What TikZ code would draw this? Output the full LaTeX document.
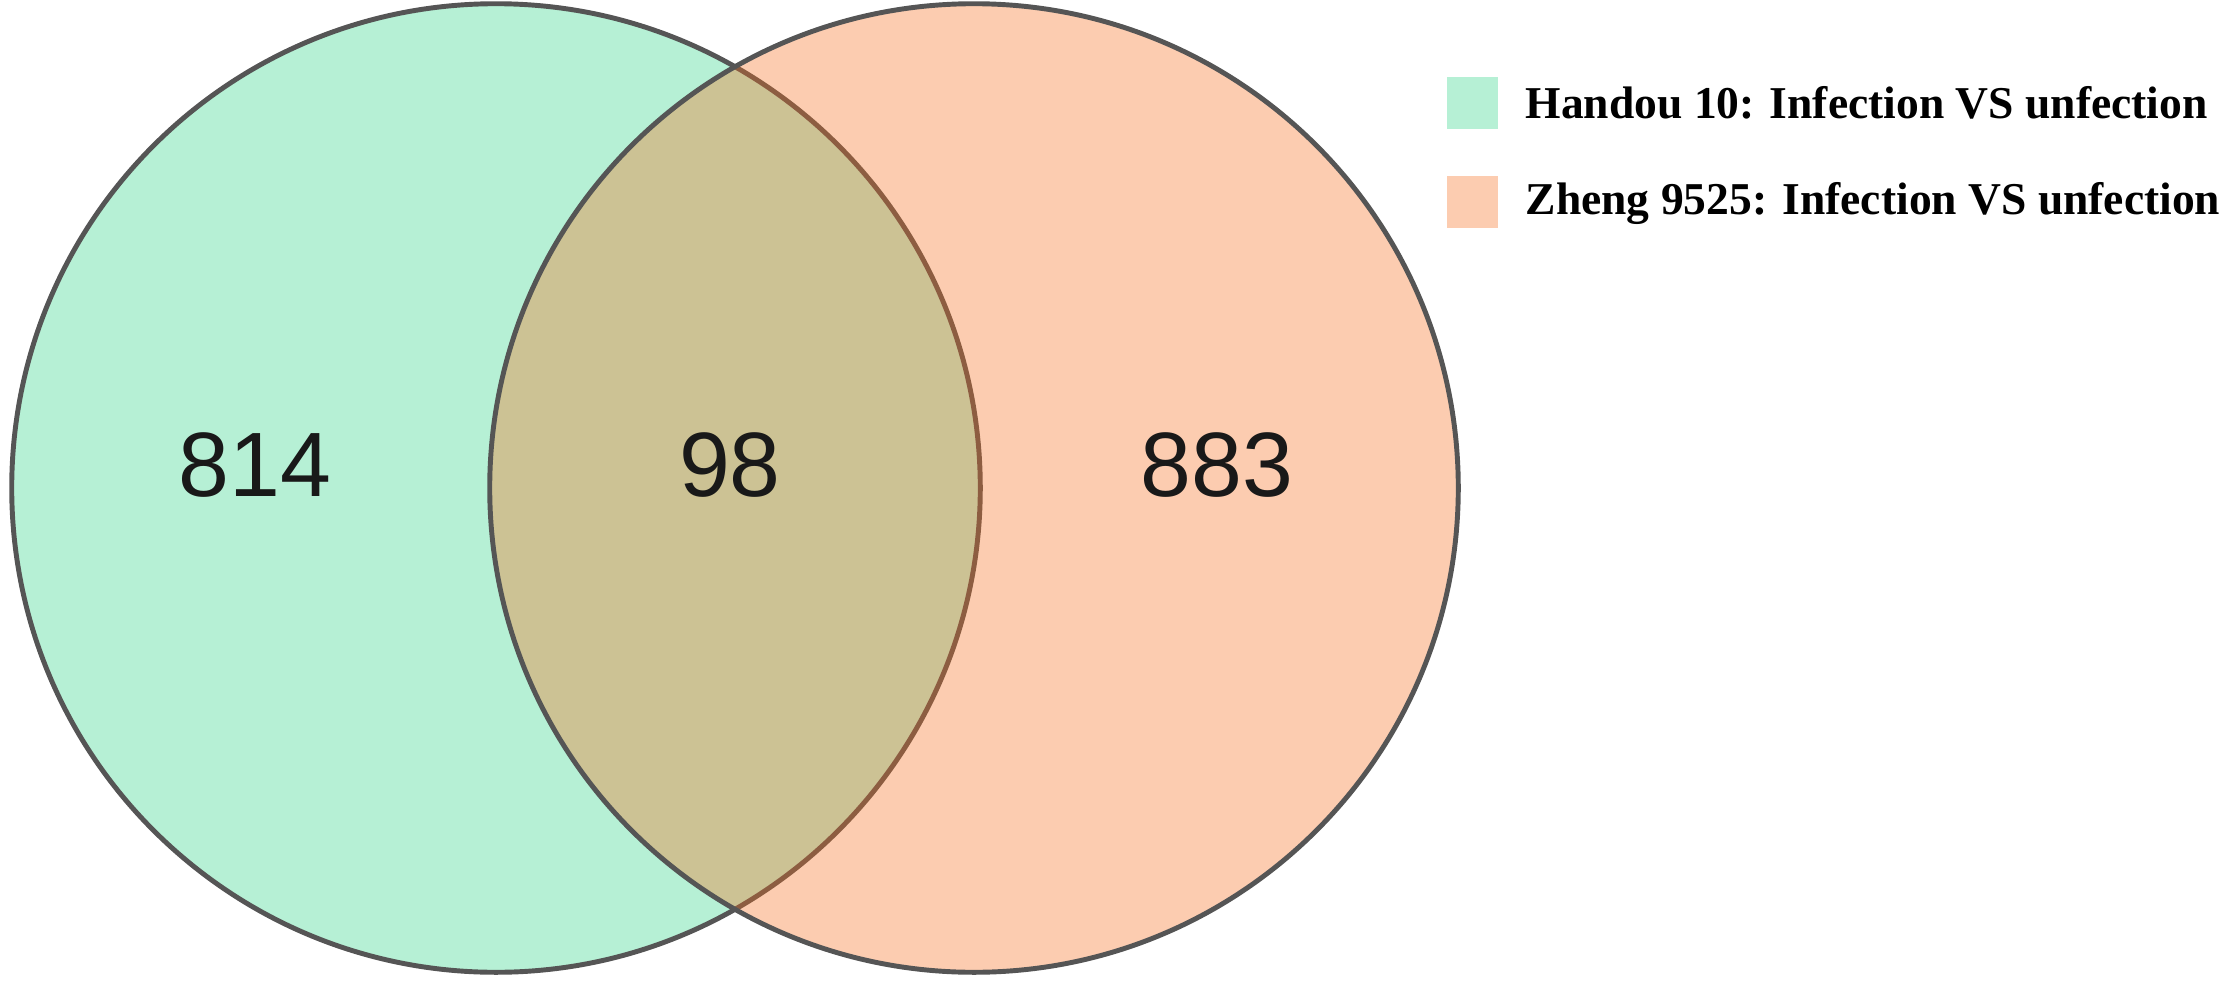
\documentclass[tikz,border=0pt]{standalone}
\usepackage{fontspec}
\setmainfont{Liberation Serif}
\newfontfamily\numfont{Liberation Sans}
\definecolor{vgreen}{RGB}{182,240,213}
\definecolor{vorange}{RGB}{246,109,29}
\definecolor{vlegor}{RGB}{252,204,176}
\definecolor{vline}{RGB}{85,85,85}
\tikzset{
  setcircle/.style={circle, minimum size=9.68cm, inner sep=0pt, line width=1.4pt},
  count/.style={font=\numfont\fontsize{26}{30}\selectfont, inner sep=0pt, text=black!90},
  legbox/.style={minimum width=0.51cm, minimum height=0.51cm, inner sep=0pt},
  legtext/.style={font=\bfseries\fontsize{12.95}{15}\selectfont, anchor=west, inner sep=0pt}
}
\begin{document}
\begin{tikzpicture}[x=0.01cm, y=-0.01cm]
\useasboundingbox (0,0) rectangle (2219,982);
\node[setcircle, fill=vgreen, draw=vline] (A) at (496,488) {};
\node[setcircle, fill=vorange, fill opacity=0.35] (Bf) at (974,488) {};
\node[setcircle, draw=vline] (B) at (974,488) {};
\node[count] (nA) at (255,465) {814};
\node[count] (nAB) at (730,465) {98};
\node[count] (nB) at (1217,465) {883};
\node[legbox, fill=vgreen] (l1) at (1472,103) {};
\node[legbox, fill=vlegor] (l2) at (1472,202) {};
\node[legtext] (t1) at (1525,103) {Handou 10: Infection VS unfection};
\node[legtext] (t2) at (1525,203) {Zheng 9525: Infection VS unfection};
\end{tikzpicture}
\end{document}
